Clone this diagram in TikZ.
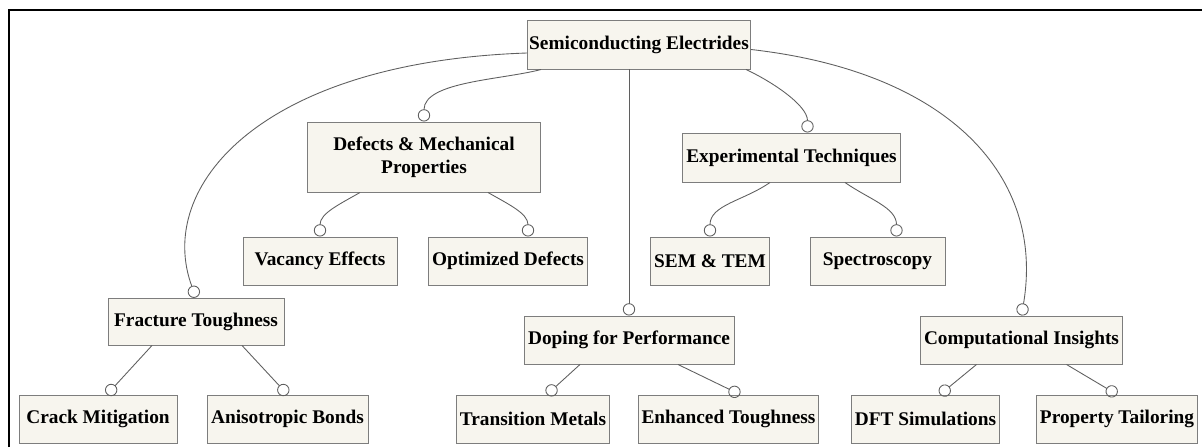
\documentclass[tikz,border=0pt]{standalone}
\usepackage{fontspec}
\setmainfont{Liberation Serif}
\usepackage{tikz}
\usetikzlibrary{arrows.meta}
\usepackage{xcolor}
\definecolor{boxfill}{RGB}{247, 245, 238}
\definecolor{boxline}{RGB}{125, 125, 125}
\definecolor{linkgray}{RGB}{95, 95, 95}

\begin{document}
\begin{tikzpicture}[scale=1.0,
  box/.style={draw=boxline, fill=boxfill, line width=0.55pt, inner xsep=2pt,
    minimum height=0.96cm, font=\fontsize{11}{13}\selectfont\bfseries, align=center},
  link/.style={draw=linkgray, line width=0.5pt, -{Circle[open, length=7pt]}}]
  \useasboundingbox (0,0) rectangle (24.04,8.94);

  % 外框
  \draw[line width=1.6pt] (0.18,0) -- (0.18,8.74) -- (24.04,8.74);

  % 根节点
  \node[box, inner xsep=0pt, minimum width=4.46cm, minimum height=0.98cm] (root) at (12.78,8.05) {Semiconducting Electrides};

  % 第二层
  \node[box, minimum width=4.66cm, minimum height=1.40cm] (defects) at (8.48,5.80) {Defects \& Mechanical\\Properties};
  \node[box, minimum width=3.62cm, minimum height=0.98cm] (exper) at (15.83,5.79) {Experimental Techniques};
  \node[box, minimum width=3.52cm, minimum height=0.94cm] (fracture) at (3.92,2.51) {Fracture Toughness};
  \node[box, minimum width=4.20cm] (doping) at (12.58,2.14) {Doping for Performance};
  \node[box, minimum width=3.38cm] (comput) at (20.43,2.14) {Computational Insights};

  % 叶节点
  \node[box, minimum width=3.08cm] (vacancy) at (6.40,3.72) {Vacancy Effects};
  \node[box, minimum width=2.92cm] (optimized) at (10.16,3.72) {Optimized Defects};
  \node[box, minimum width=2.12cm] (sem) at (14.20,3.72) {SEM \& TEM};
  \node[box, minimum width=2.70cm] (spectro) at (17.55,3.72) {Spectroscopy};
  \node[box, minimum width=3.16cm] (crack) at (1.96,0.56) {Crack Mitigation};
  \node[box, minimum width=3.22cm] (aniso) at (5.75,0.56) {Anisotropic Bonds};
  \node[box, minimum width=2.84cm] (transition) at (10.66,0.56) {Transition Metals};
  \node[box, minimum width=3.06cm] (enhanced) at (14.57,0.56) {Enhanced Toughness};
  \node[box, minimum width=2.62cm] (dft) at (18.51,0.56) {DFT Simulations};
  \node[box, minimum width=3.20cm] (property) at (22.34,0.56) {Property Tailoring};

  % 根节点连线
  \draw[link] ([yshift=-0.17cm]root.west) .. controls (5.2,7.7) and (3.1,5.2) .. (fracture.north);
  \draw[link] ([xshift=0.28cm]root.south west) to[out=195, in=90, looseness=0.8] (defects.north);
  \draw[link] ([xshift=-0.1cm]root.south east) to[out=-25, in=90, looseness=0.8] ([xshift=0.32cm]exper.north);
  \draw[link] ([yshift=-0.1cm]root.east) .. controls (19.0,7.5) and (20.9,5.4) .. (comput.north);
  \draw[link] (root.south -| doping.north) -- (doping.north);

  % 第二层连线
  \draw[link] ([xshift=-1.28cm]defects.south) to[out=-150, in=90] (vacancy.north);
  \draw[link] ([xshift=1.28cm]defects.south) to[out=-30, in=90] ([xshift=0.4cm]optimized.north);
  \draw[link] ([xshift=-0.43cm]exper.south) to[out=-145, in=90] (sem.north);
  \draw[link] ([xshift=1.07cm]exper.south) to[out=-35, in=90] ([xshift=0.38cm]spectro.north);
  \draw[link] ([xshift=-0.88cm]fracture.south) -- ([xshift=0.18cm]crack.north);
  \draw[link] ([xshift=0.92cm]fracture.south) -- (aniso.north);
  \draw[link] ([xshift=-0.98cm]doping.south) -- ([xshift=0.28cm]transition.north);
  \draw[link] ([xshift=0.98cm]doping.south) -- ([xshift=0.23cm]enhanced.north);
  \draw[link] ([xshift=-0.9cm]comput.south) -- ([xshift=0.29cm]dft.north);
  \draw[link] ([xshift=0.9cm]comput.south) -- (property.north);
\end{tikzpicture}
\end{document}
